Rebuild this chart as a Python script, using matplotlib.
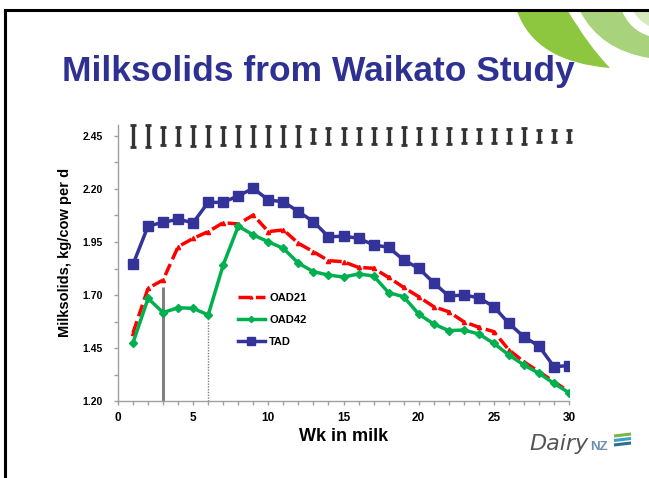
import matplotlib
matplotlib.use("Agg")
import matplotlib.pyplot as plt
from matplotlib.path import Path
from matplotlib.patches import PathPatch
from matplotlib.lines import Line2D
import numpy as np

plt.rcParams['font.family'] = ['Liberation Sans', 'DejaVu Sans']

weeks = list(range(1, 31))
TAD = [1.845, 2.025, 2.043, 2.057, 2.041, 2.137, 2.137, 2.168, 2.203, 2.148,
       2.140, 2.093, 2.046, 1.975, 1.977, 1.968, 1.936, 1.925, 1.865, 1.826,
       1.758, 1.695, 1.700, 1.687, 1.645, 1.566, 1.503, 1.459, 1.362, 1.367]
OAD21 = [1.522, 1.732, 1.771, 1.928, 1.967, 1.999, 2.041, 2.035, 2.077, 1.999,
         2.007, 1.944, 1.904, 1.862, 1.857, 1.830, 1.826, 1.783, 1.736, 1.692,
         1.645, 1.621, 1.574, 1.548, 1.527, 1.441, 1.385, 1.338, 1.291, 1.244]
OAD42 = [1.475, 1.684, 1.617, 1.640, 1.637, 1.606, 1.842, 2.025, 1.983, 1.951,
         1.920, 1.850, 1.810, 1.794, 1.785, 1.799, 1.790, 1.711, 1.692, 1.610,
         1.563, 1.532, 1.535, 1.516, 1.472, 1.417, 1.370, 1.331, 1.283, 1.239]
SE = [0.053, 0.051, 0.043, 0.043, 0.047, 0.047, 0.041, 0.046, 0.047, 0.046,
      0.046, 0.046, 0.031, 0.039, 0.037, 0.038, 0.038, 0.038, 0.043, 0.036,
      0.039, 0.038, 0.034, 0.031, 0.034, 0.035, 0.038, 0.030, 0.029, 0.028]
SE_LEVEL = 2.45
vline_weeks = [3, 6]
vline_tops = [1.74, 1.58]
yticks = [1.20, 1.45, 1.70, 1.95, 2.20, 2.45]
xticks = [0, 5, 10, 15, 20, 25, 30]

W, H = 649, 478
fig = plt.figure(figsize=(W / 100, H / 100), dpi=100)

def fx(x):
    return x / W

def fy(y):
    return 1 - y / H

# slide border
fig.add_artist(Line2D([fx(5), fx(5)], [fy(478), fy(10)], color='black', lw=2.2,
                      transform=fig.transFigure))
fig.add_artist(Line2D([fx(5), fx(649)], [fy(10), fy(10)], color='black', lw=2.2,
                      transform=fig.transFigure))

# decorative green swoosh (top-right)
def bez_patch(pts, codes, color):
    verts = [(fx(x), fy(y)) for x, y in pts]
    p = PathPatch(Path(verts, codes), facecolor=color, edgecolor='none',
                  transform=fig.transFigure, zorder=0)
    fig.add_artist(p)

C3 = Path.CURVE3
bez_patch([(517, 11), (535, 62), (610, 68), (588, 45), (568, 11), (517, 11)],
          [Path.MOVETO, C3, C3, C3, C3, Path.CLOSEPOLY], '#8dc63f')
bez_patch([(580, 11), (600, 50), (649, 58), (649, 36), (630, 30), (622, 11), (580, 11)],
          [Path.MOVETO, C3, C3, Path.LINETO, C3, C3, Path.CLOSEPOLY], '#a8d37c')
bez_patch([(633, 11), (640, 22), (649, 26), (649, 11), (633, 11)],
          [Path.MOVETO, C3, C3, Path.LINETO, Path.CLOSEPOLY], '#d3eabd')

# title
fig.text(fx(318), fy(81), 'Milksolids from Waikato Study', ha='center', va='baseline',
         fontsize=25.5, fontweight='bold', color='#2e3192')

# axes
ax = fig.add_axes([fx(118), fy(401), fx(569) - fx(118), fy(125.4) - fy(401)])
ax.set_xlim(0, 30)
ax.set_ylim(1.20, 2.50)

# SE bars
ax.errorbar(weeks, [SE_LEVEL] * len(weeks), yerr=SE, fmt='none', ecolor='#333333',
            elinewidth=2.4, capsize=2.2, capthick=2.0, zorder=3, clip_on=False)

# vertical markers
ax.vlines(vline_weeks[0], 1.20, vline_tops[0], colors='#808080', lw=2.2, zorder=2)
ax.vlines(vline_weeks[1], 1.20, vline_tops[1], colors='#808080', lw=1.0,
          linestyles=(0, (1, 1)), zorder=2)

ax.plot(weeks, OAD21, color='#ff0000', lw=2.5, ls=(0, (3.5, 1.5)), marker='^',
        ms=3, label='OAD21', zorder=4)
ax.plot(weeks, OAD42, color='#00b04f', lw=2.5, marker='D', ms=4.5, label='OAD42', zorder=5)
ax.plot(weeks, TAD, color='#33339a', lw=2.5, marker='s', ms=7.5, label='TAD', zorder=6)

for s in ['top', 'right']:
    ax.spines[s].set_visible(False)
for s in ['left', 'bottom']:
    ax.spines[s].set_color('#a0a0a0')
    ax.spines[s].set_linewidth(1.0)

ax.set_yticks(yticks)
ax.set_yticklabels([f'{v:.2f}' for v in yticks], fontsize=7.5, fontweight='bold')
ax.set_yticks(np.arange(1.20, 2.50, 0.125), minor=True)
ax.set_xticks(xticks)
ax.set_xticklabels([str(v) for v in xticks], fontsize=8.5, fontweight='bold')
ax.set_xticks(weeks, minor=True)
ax.tick_params(axis='both', which='both', direction='out', color='#a0a0a0',
               length=3, width=1.0)
ax.tick_params(axis='y', which='major', pad=8)
ax.tick_params(axis='x', which='major', pad=5)

ax.set_xlabel('Wk in milk', fontsize=13, fontweight='bold', labelpad=3)
ax.set_ylabel('Milksolids, kg/cow per d', fontsize=10.5, fontweight='bold')
ax.yaxis.set_label_coords(-0.102, 0.54)

leg = ax.legend(loc='center left', bbox_to_anchor=(fx(228), fy(320)),
                bbox_transform=fig.transFigure, frameon=False, fontsize=8,
                handlelength=2.4, handletextpad=0.4, labelspacing=1.05,
                markerscale=0.7)
for t in leg.get_texts():
    t.set_fontweight('bold')

# DairyNZ logo
fig.text(fx(589), fy(450), 'Dairy', fontsize=16, fontstyle='italic', color='#555555',
         ha='right', va='baseline', family='DejaVu Sans')
fig.text(fx(590), fy(450), 'NZ', fontsize=9.5, fontweight='bold', color='#6f8fb0',
         ha='left', va='baseline')
for i, c in enumerate(['#7ab648', '#3aa0c8', '#2c6e8e']):
    y0 = 434 + i * 4.5
    fig.add_artist(Line2D([fx(614), fx(631)], [fy(y0 + 2), fy(y0)], color=c, lw=2.2,
                          transform=fig.transFigure, solid_capstyle='butt'))

fig.savefig('out.png', dpi=100)
